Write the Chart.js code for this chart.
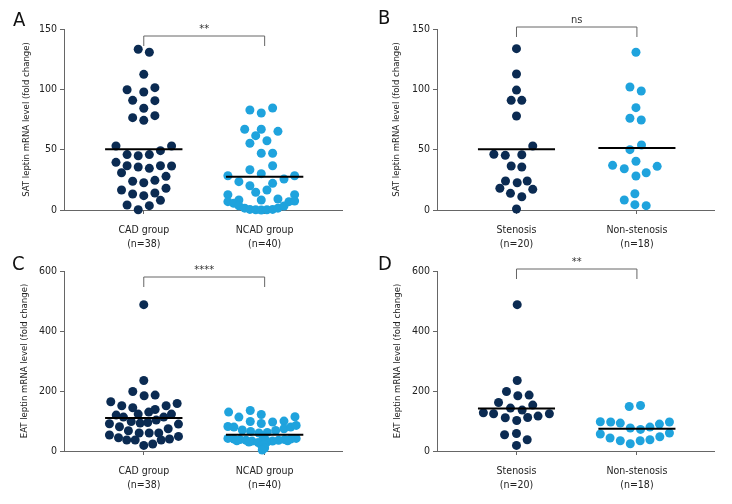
<!DOCTYPE html>
<html>
<head>
<meta charset="utf-8">
<script src="https://cdn.jsdelivr.net/npm/chart.js"></script>
<style>
  body { margin: 0; background: #fff; }
  .wrap { position: relative; width: 732px; height: 504px; }
  .panel { position: absolute; width: 366px; height: 252px; }
  .letter { position: absolute; font-family: "Liberation Sans Narrow", "DejaVu Sans Condensed", sans-serif; font-size: 20px; color: #111; }
</style>
</head>
<body>
<div class="wrap">
  <div class="panel" style="left:0;top:0"><canvas id="chartA"></canvas></div>
  <div class="panel" style="left:366px;top:0"><canvas id="chartB"></canvas></div>
  <div class="panel" style="left:0;top:252px"><canvas id="chartC"></canvas></div>
  <div class="panel" style="left:366px;top:252px"><canvas id="chartD"></canvas></div>
  <div class="letter" style="left:13px;top:7px">A</div>
  <div class="letter" style="left:378px;top:5px">B</div>
  <div class="letter" style="left:12px;top:251px">C</div>
  <div class="letter" style="left:378px;top:251px">D</div>
</div>
<script>
// categories
var cadLabels = [['CAD group', '(n=38)'], ['NCAD group', '(n=40)']];
var stenLabels = [['Stenosis', '(n=20)'], ['Non-stenosis', '(n=18)']];
var satTicks = [0, 50, 100, 150];
var eatTicks = [0, 200, 400, 600];
var pValues = ['**', 'ns', '****', '**'];

// A: SAT, CAD vs NCAD (value + horizontal scatter offset in category units)
var satCad = [133.2, 130.7, 112.4, 99.7, 97.8, 101.4, 90.9, 90.6, 84.3, 76.5, 74.3, 78.2,
  53.0, 53.0, 49.2, 45.9, 45.0, 45.9, 39.5, 36.7, 35.6, 34.5, 36.7, 36.5, 30.9, 27.9,
  23.8, 22.6, 24.6, 16.6, 13.3, 11.9, 14.1, 18.0, 8.0, 4.1, 3.6, 0.2];
var satCadJit = [-0.046, 0.046, 0, -0.138, 0, 0.092, -0.092, 0.092, 0, -0.092, 0, 0.092,
  -0.23, 0.23, 0.138, -0.138, -0.046, 0.046, -0.23, -0.138, -0.046, 0.046, 0.138, 0.23, -0.184, 0.184,
  -0.092, 0, 0.092, -0.184, -0.092, 0, 0.092, 0.184, 0.138, -0.138, 0.046, -0.046];
var satNcad = [82.9, 80.4, 84.5, 66.9, 66.9, 65.2, 61.6, 57.4, 55.3, 47.0, 47.0, 36.7, 33.4, 30.1,
  28.4, 28.4, 25.7, 23.5, 22.1, 20.1, 16.6, 14.7, 12.7, 12.7, 8.3, 8.3, 9.1, 6.9, 6.9, 7.5,
  5.5, 3.5, 1.5, 0.5, 0.2, 0, 0.2, 0.5, 1.5, 3.3];
var satNcadJit = [-0.122, -0.028, 0.066, -0.165, -0.028, 0.110, -0.074, 0.019, -0.122, -0.028, 0.066, 0.066, -0.122, -0.028,
  -0.304, 0.248, 0.160, -0.213, 0.066, -0.122, 0.019, -0.074, -0.304, 0.248, -0.213, -0.028, 0.110, -0.304, 0.201, 0.248,
  -0.256, -0.213, -0.165, -0.122, -0.074, -0.028, 0.019, 0.066, 0.110, 0.160];
var satCadMeans = [50.3, 27.6];

// B: SAT, stenosis vs non-stenosis
var satSten = [133.7, 112.7, 99.4, 90.9, 90.9, 77.9, 53.0, 46.2, 45.3, 45.8, 36.5, 35.6,
  24.0, 22.6, 24.0, 18.0, 17.1, 13.8, 11.0, 0.8];
var satStenJit = [0, 0, 0, -0.044, 0.044, 0, 0.135, -0.188, -0.093, 0.044, -0.044, 0.044,
  -0.091, 0.006, 0.089, -0.138, 0.135, -0.050, 0.044, 0];
var satNon = [130.7, 101.9, 98.6, 84.8, 76.0, 74.6, 53.9, 50.0, 37.0, 34.2, 40.4, 36.2,
  30.9, 28.2, 13.5, 8.3, 4.4, 3.6];
var satNonJit = [-0.008, -0.058, 0.036, -0.008, -0.058, 0.036, 0.038, -0.058, -0.202, -0.105, -0.008, 0.168,
  0.077, -0.008, -0.017, -0.105, -0.017, 0.077];
var satStenMeans = [50.3, 51.4];

// C: EAT, CAD vs NCAD
var eatCad = [487.7, 234.9, 198.3, 184.0, 186.3, 164.0, 150.7, 144.0, 150.7, 158.4, 138.4, 129.7,
  119.8, 113.1, 123.1, 113.1, 123.1, 98.5, 93.1, 95.1, 103.1, 90.8, 89.8, 80.8, 67.5, 74.2,
  53.2, 44.2, 36.6, 36.6, 59.9, 59.9, 59.9, 48.6, 36.6, 39.9, 18.6, 23.3];
var eatCadJit = [0, 0, -0.091, 0.003, 0.094, -0.273, -0.182, -0.091, 0.185, 0.276, 0.094, 0.041,
  -0.228, -0.168, -0.046, 0.165, 0.229, -0.104, -0.030, 0.033, 0.103, -0.284, 0.287, -0.201, -0.127, 0.202,
  -0.284, -0.209, -0.141, -0.071, -0.038, 0.045, 0.124, 0.287, 0.144, 0.213, 0, 0.074];
var eatNcad = [129.7, 113.1, 135.1, 121.8, 96.5, 99.8, 114.1, 98.5, 91.8,
  81.8, 79.8, 69.9, 65.2, 59.9, 61.9, 68.5, 74.2, 79.8, 85.2,
  42, 40, 38, 36, 33, 28, 18, 42, 40, 38, 36, 33, 28,
  45, 35, 22, 10, 3, 34, 34, 30];
var eatNcadJit = [-0.298, -0.213, -0.119, -0.028, 0.066, 0.160, 0.251, -0.119, -0.028,
  -0.304, -0.254, -0.185, -0.116, -0.047, 0.022, 0.091, 0.160, 0.215, 0.261,
  -0.304, -0.254, -0.204, -0.154, -0.104, -0.054, -0.025, 0.261, 0.215, 0.165, 0.115, 0.065, 0.015,
  -0.01, 0.01, -0.005, 0, -0.02, -0.23, 0.19, -0.13];
var eatCadMeans = [109.8, 54.0];

// D: EAT, stenosis vs non-stenosis
var eatSten = [487.7, 234.9, 198.3, 184.0, 186.3, 161.7, 153.0, 143.0, 136.4, 127.4, 124.1, 110.8,
  111.8, 116.4, 124.1, 101.8, 54.2, 58.5, 37.6, 18.6];
var eatStenJit = [0.006, 0.006, -0.083, 0.011, 0.105, -0.149, 0.135, -0.050, 0.047, -0.275, -0.190, -0.093,
  0.093, 0.179, 0.273, 0.002, -0.099, 0, 0.089, 0];
var eatNon = [148.4, 151.7, 97.5, 96.5, 93.1, 76.5, 71.9, 79.8, 89.8, 96.5, 56.6, 43.2,
  34.3, 24.3, 34.3, 37.6, 47.6, 59.9];
var eatNonJit = [-0.064, 0.030, -0.304, -0.218, -0.138, -0.055, 0.030, 0.108, 0.187, 0.270, -0.304, -0.223,
  -0.138, -0.055, 0.027, 0.108, 0.190, 0.270];
var eatStenMeans = [141.8, 74.2];

var DARK = '#0b2b52';
var LIGHT = '#1fa3dd';
var FONT = '"Liberation Sans Narrow", "DejaVu Sans Condensed", sans-serif';

Chart.defaults.font.family = FONT;
Chart.defaults.color = '#222';

// significance bracket above the two groups
var bracketPlugin = {
  id: 'bracket',
  afterDraw: function (chart, args, opts) {
    var ctx = chart.ctx;
    var x = chart.scales.x;
    var x0 = x.getPixelForValue(0), x1 = x.getPixelForValue(1);
    var y = chart.chartArea.top + opts.top;
    ctx.save();
    ctx.strokeStyle = '#666';
    ctx.lineWidth = 1;
    ctx.beginPath();
    ctx.moveTo(x0, y + opts.leg);
    ctx.lineTo(x0, y);
    ctx.lineTo(x1, y);
    ctx.lineTo(x1, y + opts.leg);
    ctx.stroke();
    ctx.fillStyle = '#333';
    ctx.font = '11px ' + FONT;
    ctx.textAlign = 'center';
    ctx.textBaseline = 'bottom';
    ctx.fillText(opts.text, (x0 + x1) / 2, y - 1);
    ctx.restore();
  }
};

function points(values, jitter, cat) {
  return values.map(function (v, i) { return { x: cat + jitter[i], y: v }; });
}

function meanLine(m, cat) {
  return [{ x: cat - 0.32, y: m }, { x: cat + 0.32, y: m }];
}

function makePanel(id, o) {
  var ctx = document.getElementById(id).getContext('2d');
  return new Chart(ctx, {
    type: 'scatter',
    data: {
      datasets: [
        { data: meanLine(o.means[0], 0), showLine: true, borderColor: '#000', borderWidth: 2, pointRadius: 0, order: 0, clip: false },
        { data: meanLine(o.means[1], 1), showLine: true, borderColor: '#000', borderWidth: 2, pointRadius: 0, order: 0, clip: false },
        { data: points(o.g1, o.j1, 0), backgroundColor: DARK, borderWidth: 0, pointRadius: 4.5, order: 1, clip: false },
        { data: points(o.g2, o.j2, 1), backgroundColor: LIGHT, borderWidth: 0, pointRadius: 4.5, order: 1, clip: false }
      ]
    },
    options: {
      responsive: true,
      maintainAspectRatio: false,
      animation: false,
      layout: { padding: { top: o.top, right: 366 - o.right, left: 0, bottom: 0 } },
      plugins: {
        legend: { display: false },
        tooltip: { enabled: false },
        bracket: { text: o.p, top: o.bTop, leg: 10 }
      },
      scales: {
        x: {
          type: 'linear',
          min: -0.66,
          max: 1.64,
          afterBuildTicks: function (s) { s.ticks = [{ value: 0 }, { value: 1 }]; },
          afterFit: function (s) { s.height = 252 - o.bottom; },
          ticks: {
            padding: 9,
            font: { size: 10.5, lineHeight: 1.35 },
            callback: function (v) { return o.cats[v]; }
          },
          grid: { drawOnChartArea: false, drawTicks: true, tickLength: 4, color: '#666' },
          border: { color: '#666', width: 1 }
        },
        y: {
          min: o.yTicks[0],
          max: o.yTicks[o.yTicks.length - 1],
          afterBuildTicks: function (s) { s.ticks = o.yTicks.map(function (t) { return { value: t }; }); },
          afterFit: function (s) { s.width = o.left; },
          ticks: { padding: 3, font: { size: 10.5 } },
          grid: { drawOnChartArea: false, drawTicks: true, tickLength: 4, color: '#666' },
          border: { color: '#666', width: 1 },
          title: { display: true, text: o.title, font: { size: 9.5 }, padding: { top: o.titlePad, bottom: 0 } }
        }
      }
    },
    plugins: [bracketPlugin]
  });
}

makePanel('chartA', {
  g1: satCad, j1: satCadJit, g2: satNcad, j2: satNcadJit, means: satCadMeans,
  cats: cadLabels, yTicks: satTicks, p: pValues[0], title: 'SAT leptin mRNA level (fold change)',
  left: 64, right: 342, top: 29, bottom: 210, titlePad: 21, bTop: 7
});
makePanel('chartB', {
  g1: satSten, j1: satStenJit, g2: satNon, j2: satNonJit, means: satStenMeans,
  cats: stenLabels, yTicks: satTicks, p: pValues[1], title: 'SAT leptin mRNA level (fold change)',
  left: 71, right: 348, top: 29, bottom: 210, titlePad: 25, bTop: -2
});
makePanel('chartC', {
  g1: eatCad, j1: eatCadJit, g2: eatNcad, j2: eatNcadJit, means: eatCadMeans,
  cats: cadLabels, yTicks: eatTicks, p: pValues[2], title: 'EAT leptin mRNA level (fold change)',
  left: 64, right: 342, top: 19, bottom: 199, titlePad: 19, bTop: 6
});
makePanel('chartD', {
  g1: eatSten, j1: eatStenJit, g2: eatNon, j2: eatNonJit, means: eatStenMeans,
  cats: stenLabels, yTicks: eatTicks, p: pValues[3], title: 'EAT leptin mRNA level (fold change)',
  left: 71, right: 348, top: 19, bottom: 199, titlePad: 26, bTop: -2
});
</script>
</body>
</html>
